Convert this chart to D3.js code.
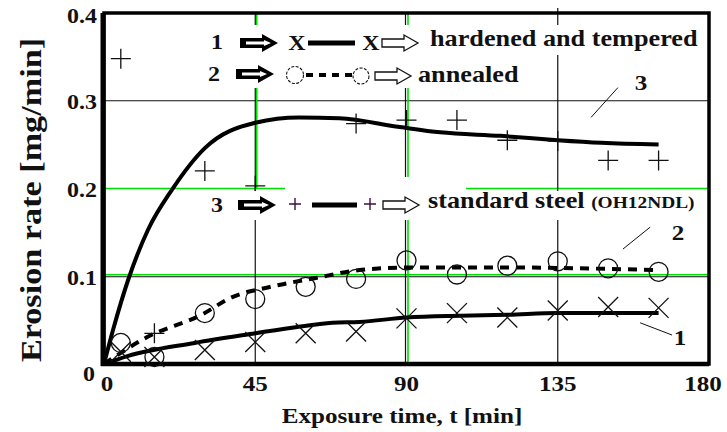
<!DOCTYPE html>
<html lang="en">
  <head>
    <meta charset="UTF-8">
    <title>Erosion rate vs exposure time</title>
    <style>
      body { margin: 0; background: white; }
      svg { display: block; }
      text {
        font-family: "Liberation Serif", "Times New Roman", serif;
        font-weight: bold;
        fill: #111;
      }
      .grid-black { stroke: #111; stroke-width: 1.2; }
      .grid-green { stroke: #00e000; stroke-width: 1.6; }
      .curve { fill: none; stroke: #000; stroke-width: 4; }
      .marker { fill: none; stroke: #111; stroke-width: 1.3; }
    </style>
    <script src="https://d3js.org/d3.v7.min.js"></script>
  </head>
  <body>
    <script>
      // ---- data ----
      const timeTicks = [0, 45, 90, 135, 180];
      const rateTicks = [0, 0.1, 0.2, 0.3, 0.4];
      const rateTickLabels = ["0", "0.1", "0.2", "0.3", "0.4"];

      // 1: hardened and tempered (X)
      const hardTime = [5, 15, 30, 45, 60, 75, 90, 105, 120, 135, 150, 165];
      const hardRate = [0.014, 0.008, 0.016, 0.025, 0.035, 0.037, 0.052, 0.058, 0.053, 0.061, 0.065, 0.064];
      const hardFitTime = [0, 7, 27, 45, 57, 68, 76, 90, 106, 120, 135, 165];
      const hardFitRate = [0, 0.009, 0.024, 0.035, 0.042, 0.047, 0.048, 0.053, 0.055, 0.056, 0.058, 0.058];

      // 2: annealed (O)
      const annTime = [5, 15, 30, 45, 60, 75, 90, 105, 120, 135, 150, 165];
      const annRate = [0.024, 0.008, 0.058, 0.074, 0.088, 0.097, 0.118, 0.102, 0.112, 0.117, 0.109, 0.105];
      const annFitTime = [0, 13, 29, 38, 49, 63, 76, 91, 118, 165];
      const annFitRate = [0, 0.031, 0.056, 0.076, 0.0875, 0.098, 0.107, 0.110, 0.110, 0.107];

      // 3: standard steel (+)
      const stdTime = [5, 15, 30, 45, 75, 90, 105, 120, 135, 150, 165];
      const stdRate = [0.348, 0.035, 0.22, 0.203, 0.274, 0.278, 0.278, 0.255, 0.254, 0.232, 0.232];
      const stdFitTime = [0, 2.7, 7.2, 13.1, 20.3, 30, 45, 58, 70, 88, 100, 118, 135, 148, 165];
      const stdFitRate = [0, 0.039, 0.096, 0.153, 0.199, 0.246, 0.275, 0.281, 0.280, 0.270, 0.264, 0.260, 0.255, 0.252, 0.250];

      // curve number callouts
      const calloutText = ["1", "2", "3"];
      const calloutTime = [171.4, 170.8, 159.8];
      const calloutRate = [0.030, 0.150, 0.321];
      const leaderFrom = [[159.5, 0.047], [154.4, 0.131], [144.9, 0.281]];
      const leaderTo = [[169, 0.033], [162.5, 0.156], [152.9, 0.315]];

      const legendNames = ["hardened and tempered", "annealed", "standard steel "];

      // ---- layout ----
      const W = 727, H = 432;
      const margin = { top: 13, right: 18, bottom: 68, left: 104 };
      const width = W - margin.left - margin.right;
      const height = H - margin.top - margin.bottom;

      const root = d3.select("body").append("svg")
        .attr("width", W)
        .attr("height", H);

      root.append("rect").attr("width", W).attr("height", H).attr("fill", "white");

      const svg = root.append("g")
        .attr("transform", `translate(${margin.left},${margin.top})`);

      const x = d3.scaleLinear().domain([0, 180]).range([0, width]);
      const y = d3.scaleLinear().domain([0, 0.4]).range([height, 0]);

      // grid lines (mix of green and black as in the scan)
      svg.append("line").attr("class", "grid-green")
        .attr("x1", 0).attr("x2", width).attr("y1", y(0.1) - 1.5).attr("y2", y(0.1) - 1.5);
      svg.append("line").attr("class", "grid-black")
        .attr("x1", 0).attr("x2", width).attr("y1", y(0.1) + 0.5).attr("y2", y(0.1) + 0.5);
      svg.append("line").attr("class", "grid-green")
        .attr("x1", 0).attr("x2", width).attr("y1", y(0.2)).attr("y2", y(0.2));
      svg.append("line").attr("class", "grid-black")
        .attr("x1", 0).attr("x2", width).attr("y1", y(0.3)).attr("y2", y(0.3));

      svg.append("line").attr("class", "grid-green")
        .attr("x1", x(45) + 1.5).attr("x2", x(45) + 1.5).attr("y1", 0).attr("y2", y(0.2));
      svg.append("line").attr("class", "grid-black")
        .attr("x1", x(45)).attr("x2", x(45)).attr("y1", 0).attr("y2", height);
      svg.append("line").attr("class", "grid-green")
        .attr("x1", x(90) + 1.5).attr("x2", x(90) + 1.5).attr("y1", 0).attr("y2", height);
      svg.append("line").attr("class", "grid-black")
        .attr("x1", x(90) - 1).attr("x2", x(90) - 1).attr("y1", 0).attr("y2", height);
      svg.append("line").attr("class", "grid-black")
        .attr("x1", x(135)).attr("x2", x(135)).attr("y1", -5).attr("y2", height);

      // white boxes behind the legend rows
      const bands = [
        [205, 25, 495, 30],
        [200, 55, 320, 33],
        [205, 191, 500, 29],
        [285, 177, 181, 14]
      ];
      root.selectAll(".band").data(bands).enter().append("rect")
        .attr("x", d => d[0]).attr("y", d => d[1])
        .attr("width", d => d[2]).attr("height", d => d[3])
        .attr("fill", "white");

      // frame
      svg.append("rect")
        .attr("width", width).attr("height", height)
        .attr("fill", "none").attr("stroke", "#000").attr("stroke-width", 3.5);
      svg.append("line").attr("x1", -1).attr("x2", -1).attr("y1", 0).attr("y2", height + 2)
        .attr("stroke", "#000").attr("stroke-width", 5);
      svg.append("line").attr("x1", -3).attr("x2", width).attr("y1", height).attr("y2", height)
        .attr("stroke", "#000").attr("stroke-width", 4.5);

      // curves
      const line = d3.line()
        .x(d => x(d[0]))
        .y(d => y(d[1]))
        .curve(d3.curveMonotoneX);

      svg.append("path").attr("class", "curve")
        .attr("d", line(d3.zip(stdFitTime, stdFitRate)));
      svg.append("path").attr("class", "curve")
        .attr("d", line(d3.zip(hardFitTime, hardFitRate)));
      svg.append("path").attr("class", "curve")
        .attr("stroke-dasharray", "9,7")
        .attr("d", line(d3.zip(annFitTime, annFitRate)));

      // markers
      const crossPath = s => `M${-s},${-s}L${s},${s}M${-s},${s}L${s},${-s}`;
      const plusPath = s => `M${-s},0L${s},0M0,${-s}L0,${s}`;

      svg.selectAll(".xmark").data(d3.zip(hardTime, hardRate)).enter()
        .append("path").attr("class", "marker")
        .attr("transform", d => `translate(${x(d[0])},${y(d[1])})`)
        .attr("d", crossPath(10));

      svg.selectAll(".omark").data(d3.zip(annTime, annRate)).enter()
        .append("circle").attr("class", "marker")
        .attr("cx", d => x(d[0])).attr("cy", d => y(d[1]))
        .attr("r", 9.5);

      svg.selectAll(".pmark").data(d3.zip(stdTime, stdRate)).enter()
        .append("path").attr("class", "marker")
        .attr("transform", d => `translate(${x(d[0])},${y(d[1])})`)
        .attr("d", plusPath(10));

      // callouts
      svg.selectAll(".leader").data(d3.zip(leaderFrom, leaderTo)).enter()
        .append("line")
        .attr("x1", d => x(d[0][0])).attr("y1", d => y(d[0][1]))
        .attr("x2", d => x(d[1][0])).attr("y2", d => y(d[1][1]))
        .attr("stroke", "#111").attr("stroke-width", 1);

      svg.selectAll(".callout").data(calloutText).enter()
        .append("text")
        .attr("x", (d, i) => x(calloutTime[i]))
        .attr("y", (d, i) => y(calloutRate[i]))
        .attr("dy", "0.35em")
        .attr("text-anchor", "middle")
        .attr("font-size", 22)
        .text(d => d);

      // axis tick labels
      svg.selectAll(".ytick").data(rateTicks).enter()
        .append("text")
        .attr("x", d => d === 0 ? -9 : -7)
        .attr("y", d => y(d) + (d === 0 ? 10 : d === 0.4 ? 3 : 1))
        .attr("dy", "0.35em")
        .attr("text-anchor", "end")
        .attr("font-size", 21)
        .text((d, i) => rateTickLabels[i]);

      svg.selectAll(".xtick").data(timeTicks).enter()
        .append("text")
        .attr("x", d => x(d) + (d === 0 ? 3 : d === 180 ? -6 : 0))
        .attr("y", height + 27)
        .attr("text-anchor", "middle")
        .attr("font-size", 22)
        .text(d => d);

      // axis titles
      root.append("text")
        .attr("x", 402).attr("y", 423)
        .attr("text-anchor", "middle")
        .attr("font-size", 22)
        .text("Exposure time, t [min]");

      root.append("text")
        .attr("transform", "translate(41,200) rotate(-90)")
        .attr("text-anchor", "middle")
        .attr("font-size", 30)
        .text("Erosion rate  [mg/min]");

      // legend
      const lg = root.append("g");

      function blackArrow(x0, cy) {
        lg.append("path")
          .attr("d", `M${x0},${cy - 5}H${x0 + 22}V${cy - 9}L${x0 + 38},${cy}L${x0 + 22},${cy + 9}V${cy + 5}H${x0}Z`)
          .attr("fill", "#000");
        lg.append("path")
          .attr("d", `M${x0 + 6},${cy - 1.5}H${x0 + 24}V${cy - 3}L${x0 + 31},${cy}L${x0 + 24},${cy + 3}V${cy + 1.5}H${x0 + 6}Z`)
          .attr("fill", "#fff");
      }
      function openArrow(x0, cy) {
        lg.append("path")
          .attr("d", `M${x0},${cy - 4}H${x0 + 22}V${cy - 8}L${x0 + 36},${cy}L${x0 + 22},${cy + 8}V${cy + 4}H${x0}Z`)
          .attr("fill", "#fff").attr("stroke", "#111").attr("stroke-width", 1.3);
      }
      function number(xc, yb, t) {
        lg.append("text").attr("x", xc).attr("y", yb)
          .attr("text-anchor", "middle").attr("font-size", 21).text(t);
      }

      // row 1
      number(217, 49, "1");
      blackArrow(240, 43);
      lg.append("text").attr("x", 297).attr("y", 50).attr("text-anchor", "middle")
        .attr("font-size", 21).text("X");
      lg.append("line").attr("x1", 308).attr("x2", 355).attr("y1", 43).attr("y2", 43)
        .attr("stroke", "#000").attr("stroke-width", 5);
      lg.append("text").attr("x", 371).attr("y", 50).attr("text-anchor", "middle")
        .attr("font-size", 21).text("X");
      openArrow(382, 43);
      lg.append("text").attr("x", 430).attr("y", 46).attr("font-size", 23).text(legendNames[0]);

      // row 2
      number(214, 81, "2");
      blackArrow(236, 74);
      lg.append("circle").attr("cx", 295).attr("cy", 75).attr("r", 8.5)
        .attr("fill", "none").attr("stroke", "#111").attr("stroke-width", 1.1)
        .attr("stroke-dasharray", "3,1.5");
      lg.append("line").attr("x1", 306).attr("x2", 352).attr("y1", 75).attr("y2", 75)
        .attr("stroke", "#000").attr("stroke-width", 4).attr("stroke-dasharray", "7,6");
      lg.append("circle").attr("cx", 361).attr("cy", 76).attr("r", 8)
        .attr("fill", "none").attr("stroke", "#111").attr("stroke-width", 1.1)
        .attr("stroke-dasharray", "3,1.5");
      openArrow(375, 76);
      lg.append("text").attr("x", 418).attr("y", 82).attr("font-size", 23).text(legendNames[1]);

      // row 3
      number(217, 212, "3");
      blackArrow(238, 205);
      lg.append("path").attr("transform", "translate(295,204)").attr("d", plusPath(6))
        .attr("stroke", "#3a1040").attr("stroke-width", 1.4);
      lg.append("line").attr("x1", 312).attr("x2", 357).attr("y1", 205).attr("y2", 205)
        .attr("stroke", "#000").attr("stroke-width", 5);
      lg.append("path").attr("transform", "translate(370,204)").attr("d", plusPath(6))
        .attr("stroke", "#3a1040").attr("stroke-width", 1.4);
      openArrow(383, 205);
      const t3 = lg.append("text").attr("x", 428).attr("y", 208).attr("font-size", 23);
      t3.append("tspan").text(legendNames[2]);
      t3.append("tspan").attr("font-size", 17).text("(OH12NDL)");

      // the scanned lettering is wider than Times; stretch every label a bit
      root.selectAll("text").each(function () {
        const w = this.getComputedTextLength();
        d3.select(this).attr("textLength", w * 1.14).attr("lengthAdjust", "spacingAndGlyphs");
      });
    </script>
  </body>
</html>
